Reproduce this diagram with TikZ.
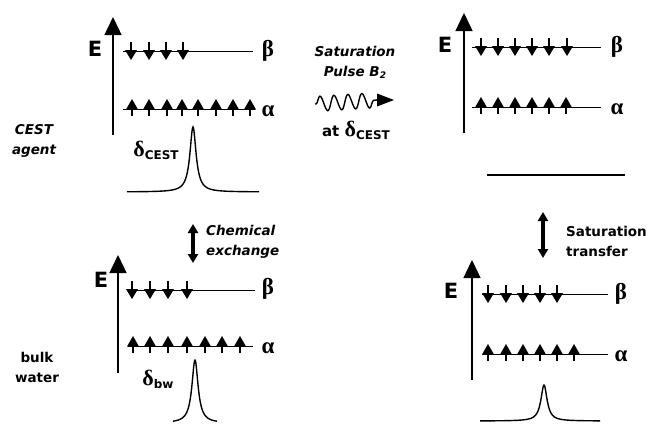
\documentclass[tikz,border=0pt]{standalone}
\usepackage{fontspec}
\setmainfont{DejaVu Sans}
\newfontfamily\grk{Liberation Serif}
\usetikzlibrary{arrows.meta,decorations.pathmorphing}
\tikzset{
  x=1pt,y=-1pt,
  lbl/.style={font=\bfseries\fontsize{13.5}{20}\selectfont,align=center,inner sep=0pt},
  ilbl/.style={font=\bfseries\itshape\fontsize{13.5}{20}\selectfont,align=center,inner sep=0pt},
  elbl/.style={font=\bfseries\fontsize{21}{22}\selectfont,inner sep=0pt},
  glbl/.style={font=\grk\bfseries\fontsize{23}{23}\selectfont,inner sep=0pt},
  level/.style={line width=0.9pt},
  eaxis/.style={line width=1.4pt,-{Triangle[width=17pt,length=18pt]}},
  dbl/.style={line width=3.6pt,{Triangle[width=10pt,length=9pt]}-{Triangle[width=10pt,length=9pt]}},
  peak/.style={line width=1.4pt},
  pics/upspin/.style={code={
    \draw[line width=1.1pt] (0,7)--(0,-4);
    \fill (-6,0.5)--(6,0.5)--(0,-10)--cycle;}},
  pics/downspin/.style={code={
    \draw[line width=1.1pt] (0,-9)--(0,2);
    \fill (-6,-1)--(6,-1)--(0,9)--cycle;}},
}
\newcommand{\dsub}[1]{{\grk\fontsize{22}{22}\selectfont\bfseries δ}\raisebox{-3pt}{\fontsize{12}{12}\selectfont\bfseries #1}}
\begin{document}
\begin{tikzpicture}
\path[use as bounding box,fill=white] (0,0) rectangle (652,423);

% ---------- Panel 1: CEST agent ----------
\coordinate (a1s) at (113,135); \coordinate (a1e) at (113,17);
\draw[eaxis] (a1s) -- (a1e);
\node[elbl] (e1) at (95,49) {E};
\coordinate (b1l) at (123,51); \coordinate (b1r) at (253,51);
\draw[level] (b1l) -- (b1r);
\node[glbl] (beta1) at (268,51) {β};
\foreach \x in {131,149,166,183} \pic at (\x,51) {downspin};
\coordinate (al1l) at (123,109); \coordinate (al1r) at (255,109);
\draw[level] (al1l) -- (al1r);
\node[glbl] (alpha1) at (268,111) {α};
\foreach \x in {132,149,167,182,198,216,233,250} \pic at (\x,109) {upspin};
\draw[peak] plot[domain=-66:66,samples=301,smooth] ({193+\x},{192-65*14/(\x*\x+14)});
\node[inner sep=0pt] (d1) at (156,150) {\dsub{CEST}};

\node[ilbl] (cest) at (34,141) {CEST\\agent};

% ---------- Middle text ----------
\node[ilbl] (sat) at (355,62) {Saturation\\Pulse \textit{B}\raisebox{-2pt}{\fontsize{9}{9}\selectfont\itshape 2}};
\coordinate (w1) at (315,104); \coordinate (w2) at (378,100);
\draw[line width=1.4pt,decorate,decoration={snake,amplitude=7.5pt,segment length=14pt,pre length=1pt,post length=1pt}] (w1) -- (w2);
\fill (377,93.5) -- (394,100) -- (377,106.5) -- cycle;
\node[inner sep=0pt] (at) at (356,130) {\fontsize{15}{16}\selectfont\bfseries at \dsub{CEST}};

% ---------- Panel 2: saturated agent ----------
\coordinate (a2s) at (464,133); \coordinate (a2e) at (464,13);
\draw[eaxis] (a2s) -- (a2e);
\node[elbl] (e2) at (445,45) {E};
\coordinate (b2l) at (472,47); \coordinate (b2r) at (601,47);
\draw[level] (b2l) -- (b2r);
\node[glbl] (beta2) at (617,47) {β};
\foreach \x in {481,498,515,532,549,567} \pic at (\x,47) {downspin};
\coordinate (al2l) at (472,107); \coordinate (al2r) at (601,107);
\draw[level] (al2l) -- (al2r);
\node[glbl] (alpha2) at (617,109) {α};
\foreach \x in {481,498,515,532,549,566} \pic at (\x,107) {upspin};
\coordinate (f1) at (487,175); \coordinate (f2) at (625,175);
\draw[peak] (f1) -- (f2);

% ---------- exchange arrows ----------
\coordinate (x1t) at (193,224); \coordinate (x1b) at (193,263);
\draw[dbl] (x1t) -- (x1b);
\node[ilbl,align=left,anchor=west] (chem) at (206,242) {Chemical\\exchange};
\coordinate (x2t) at (543,212); \coordinate (x2b) at (543,258);
\draw[dbl] (x2t) -- (x2b);
\node[lbl,align=left,anchor=west] (st) at (566,241) {Saturation\\transfer};

% ---------- Panel 3: bulk water ----------
\coordinate (a3s) at (118,373); \coordinate (a3e) at (118,255);
\draw[eaxis] (a3s) -- (a3e);
\node[elbl] (e3) at (101,280) {E};
\coordinate (b3l) at (128,290); \coordinate (b3r) at (255,290);
\draw[level] (b3l) -- (b3r);
\node[glbl] (beta3) at (268,289) {β};
\foreach \x in {132,150,168,187} \pic at (\x,290) {downspin};
\coordinate (al3l) at (128,346); \coordinate (al3r) at (253,346);
\draw[level] (al3l) -- (al3r);
\node[glbl] (alpha3) at (268,348) {α};
\foreach \x in {133,150,168,187,205,222,240} \pic at (\x,346) {upspin};
\draw[peak] plot[domain=-22:22,samples=201,smooth] ({195+\x},{423-63*14/(\x*\x+14)});
\node[inner sep=0pt] (d3) at (158,379) {\dsub{bw}};

\node[lbl] (bulk) at (37,367) {bulk\\water};

% ---------- Panel 4: saturated water ----------
\coordinate (a4s) at (472,380); \coordinate (a4e) at (472,260);
\draw[eaxis] (a4s) -- (a4e);
\node[elbl] (e4) at (451,291) {E};
\coordinate (b4l) at (482,294); \coordinate (b4r) at (608,294);
\draw[level] (b4l) -- (b4r);
\node[glbl] (beta4) at (621,294) {β};
\foreach \x in {488,506,523,540,557} \pic at (\x,294) {downspin};
\coordinate (al4l) at (482,354); \coordinate (al4r) at (608,354);
\draw[level] (al4l) -- (al4r);
\node[glbl] (alpha4) at (621,356) {α};
\foreach \x in {488,506,523,540,557,574} \pic at (\x,354) {upspin};
\draw[peak] plot[domain=-64:56,samples=301,smooth] ({544+\x},{421-36*14/(\x*\x+14)});
\end{tikzpicture}
\end{document}
